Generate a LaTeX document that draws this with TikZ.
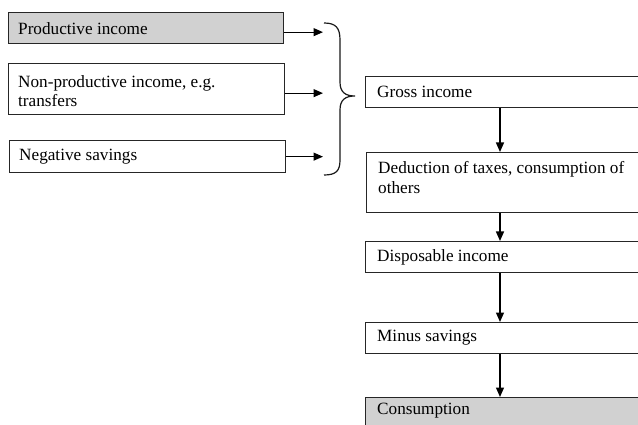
\documentclass[tikz,border=0pt]{standalone}
\usepackage{fontspec}
\setmainfont{Liberation Serif}
\usetikzlibrary{arrows.meta}
\begin{document}
\begin{tikzpicture}[x=1pt,y=-1pt,
  box/.style={draw=black!85, line width=1.3pt, rectangle, inner sep=0pt, anchor=north west},
  lbl/.style={inner sep=0pt, font=\fontsize{17.2}{19.5}\selectfont, align=left, anchor=west},
  arr/.style={draw=black, line width=1.2pt, -{Triangle[length=9.5pt,width=8pt]}},
  shaded/.style={fill=black!18}]
\useasboundingbox (0,0) rectangle (638,425);
% left boxes
\node[box, shaded, minimum width=275pt, minimum height=31pt] (prod) at (8,12) {};
\node[box, minimum width=276pt, minimum height=51pt] (nonprod) at (8,63) {};
\node[box, minimum width=276pt, minimum height=32pt] (neg) at (9,140) {};
\node[lbl] (tprod) at ([xshift=10pt]prod.west) {Productive income};
\node[lbl] (tnonprod) at ([xshift=10pt,yshift=-2pt]nonprod.west) {Non-productive income, e.g.\\transfers};
\node[lbl] (tneg) at ([xshift=10pt]neg.west) {Negative savings};
% arrows to brace
\coordinate (bx) at (323,0);
\draw[arr] ([yshift=-4pt]prod.east) -- ([yshift=-4pt]prod.east -| bx);
\draw[arr] ([yshift=-4pt]nonprod.east) -- ([yshift=-4pt]nonprod.east -| bx);
\draw[arr] (neg.east) -- (neg.east -| bx);
% brace
\draw[black!90, line width=1.2pt]
  (324,23) .. controls (336,23) and (340,28) .. (340,40)
  -- (340,82) .. controls (340,92) and (345,96) .. (355,96)
  .. controls (345,96) and (340,100) .. (340,110)
  -- (340,160) .. controls (340,171) and (336,175) .. (324,175);
% right boxes
\node[box, minimum width=290pt, minimum height=31pt] (gross) at (365,76) {};
\node[box, minimum width=290pt, minimum height=60pt] (ded) at (366,152) {};
\node[box, minimum width=290pt, minimum height=31pt] (disp) at (365,241) {};
\node[box, minimum width=290pt, minimum height=31pt] (minus) at (365,322) {};
\node[box, shaded, minimum width=290pt, minimum height=45pt] (cons) at (365,397) {};
\node[lbl] (tgross) at ([xshift=12pt]gross.west) {Gross income};
\node[lbl] (tded) at ([xshift=12pt,yshift=5pt]ded.west) {Deduction of taxes, consumption of\\others};
\node[lbl] (tdisp) at ([xshift=12pt]disp.west) {Disposable income};
\node[lbl] (tminus) at ([xshift=12pt]minus.west) {Minus savings};
\node[lbl] (tcons) at ([xshift=12pt]cons.north west |- 0,411) {Consumption};
% vertical arrows
\coordinate (ax) at (500,0);
\draw[arr] (gross.south -| ax) -- (ded.north -| ax);
\draw[arr] (ded.south -| ax) -- (disp.north -| ax);
\draw[arr] (disp.south -| ax) -- (minus.north -| ax);
\draw[arr] (minus.south -| ax) -- (cons.north -| ax);
\end{tikzpicture}
\end{document}
